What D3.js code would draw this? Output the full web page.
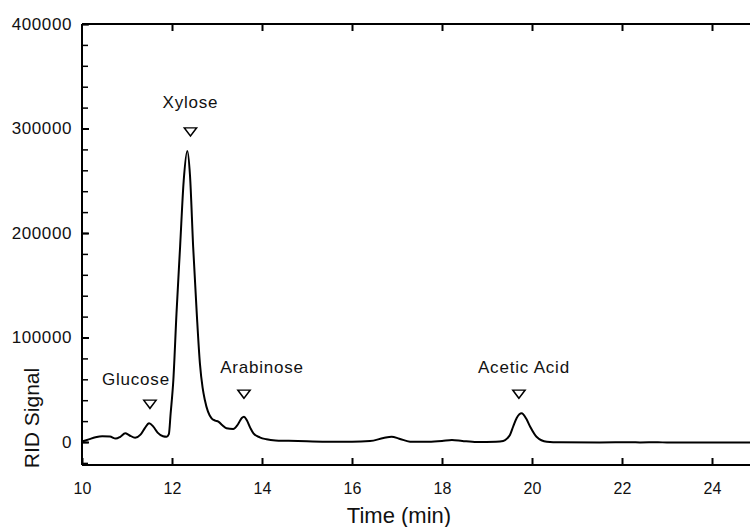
<!DOCTYPE html>
<html>
<head>
<meta charset="utf-8">
<script src="https://cdn.jsdelivr.net/npm/d3@7"></script>
<style>
  body { margin: 0; background: #fff; }
  text { font-family: "Liberation Sans", Arial, sans-serif; fill: #111; }
</style>
</head>
<body>
<div id="chart"></div>
<script>

// chromatogram trace: time (min) and RID signal
var times = [10.00, 10.15, 10.30, 10.45, 10.62, 10.75, 10.85, 10.96, 11.05, 11.18,
             11.30, 11.40, 11.49, 11.58, 11.68, 11.80, 11.88, 11.93, 11.97, 12.03,
             12.10, 12.18, 12.26, 12.34, 12.40, 12.47, 12.55, 12.62, 12.68, 12.73,
             12.80, 12.88, 12.96, 13.03, 13.12, 13.21, 13.36, 13.46, 13.55, 13.60,
             13.66, 13.74, 13.81, 13.95, 14.10, 14.30, 14.55, 15.00, 15.50, 16.00,
             16.40, 16.70, 16.88, 17.05, 17.29, 17.70, 18.00, 18.22, 18.45, 18.77,
             19.20, 19.36, 19.45, 19.51, 19.58, 19.66, 19.77, 19.87, 19.96, 20.10,
             20.33, 20.62, 21.50, 22.20, 22.40, 22.80, 23.00, 24.00, 25.00];
var signal = [500, 2500, 4500, 5500, 5200, 3300, 5000, 8300, 6500, 4000,
              7000, 13500, 17900, 15000, 9000, 5500, 5000, 7500, 27500, 59300,
              123100, 186900, 250000, 278500, 255000, 186900, 123100, 75300, 52000, 40200,
              29000, 22700, 20500, 19500, 16000, 13100, 12400, 16500, 23000, 24200,
              21000, 13500, 8300, 4500, 2600, 1500, 1200, 700, 300, 300,
              900, 3800, 5100, 3200, 300, 200, 900, 1900, 1000, 0,
              300, 1000, 3500, 6700, 14600, 23000, 27500, 22500, 14600, 5100,
              300, -300, -400, -200, -400, -200, -500, -500, -500];

// peak markers
var peakNames = ["Glucose", "Xylose", "Arabinose", "Acetic Acid"];
var peakTimes = [11.51, 12.41, 13.60, 19.71];
var peakMarks = [37400, 298000, 47000, 47000];
var labelShift = [-14, 0, 18, 5];
var labelLift = [18, 22.5, 20, 20];

var xTicks = [10, 12, 14, 16, 18, 20, 22, 24];
var yTicks = [0, 100000, 200000, 300000, 400000];

var outerWidth = 750,
    outerHeight = 527;

var x = d3.scaleLinear()
    .domain([10, 25])
    .range([82, 757]);

var y = d3.scaleLinear()
    .domain([-22000, 400000])
    .range([465, 24]);

var svg = d3.select("#chart")
    .append("svg")
        .attr("width", outerWidth)
        .attr("height", outerHeight);

var data = times.map(function(t, i) { return {t: t, s: signal[i]}; });

// frame lines
svg.append("line")
    .attr("x1", x(10)).attr("x2", x(25))
    .attr("y1", y.range()[1]).attr("y2", y.range()[1])
    .attr("stroke", "#000").attr("stroke-width", 2);
svg.append("line")
    .attr("x1", x(10)).attr("x2", x(25))
    .attr("y1", y.range()[0]).attr("y2", y.range()[0])
    .attr("stroke", "#000").attr("stroke-width", 2);
svg.append("line")
    .attr("x1", x(10)).attr("x2", x(10))
    .attr("y1", y.range()[0]).attr("y2", y.range()[1])
    .attr("stroke", "#000").attr("stroke-width", 2);

// bottom axis, ticks pointing in
var xAxis = svg.append("g")
    .attr("transform", "translate(0," + y.range()[0] + ")")
    .call(d3.axisBottom(x).tickValues(xTicks).tickSizeInner(-7).tickSizeOuter(0).tickPadding(18));
xAxis.select(".domain").remove();
xAxis.selectAll("line").attr("stroke-width", 2);
xAxis.selectAll("text").style("font-size", "16px").attr("fill", "#111")
    .attr("font-family", "Liberation Sans, Arial, sans-serif");

// top ticks
var xTop = svg.append("g")
    .attr("transform", "translate(0," + y.range()[1] + ")")
    .call(d3.axisTop(x).tickValues(xTicks.slice(1)).tickSizeInner(-7).tickSizeOuter(0).tickFormat(""));
xTop.select(".domain").remove();
xTop.selectAll("line").attr("stroke-width", 2);

// left axis with minor ticks every 20000
var yMinor = svg.append("g")
    .attr("transform", "translate(" + x(10) + ",0)")
    .call(d3.axisLeft(y).tickValues(d3.range(-20000, 400001, 20000)).tickSizeInner(-6).tickSizeOuter(0).tickFormat(""));
yMinor.select(".domain").remove();
yMinor.selectAll("line").attr("stroke-width", 1.5);

var yAxis = svg.append("g")
    .attr("transform", "translate(" + x(10) + ",0)")
    .call(d3.axisLeft(y).tickValues(yTicks).tickSizeInner(-7).tickSizeOuter(0).tickPadding(10).tickFormat(d3.format("d")));
yAxis.select(".domain").remove();
yAxis.selectAll("line").attr("stroke-width", 2);
yAxis.selectAll("text").style("font-size", "17px").attr("fill", "#111")
    .attr("font-family", "Liberation Sans, Arial, sans-serif")
    .attr("letter-spacing", "0.6px");

// the trace
var line = d3.line()
    .x(function(d) { return x(d.t); })
    .y(function(d) { return y(d.s); })
    .curve(d3.curveMonotoneX);

svg.append("path")
    .datum(data)
    .attr("d", line)
    .attr("fill", "none")
    .attr("stroke", "#000")
    .attr("stroke-width", 2)
    .attr("stroke-linejoin", "round");

// peak markers and names
var tri = d3.symbol().type(d3.symbolTriangle).size(60);
peakNames.forEach(function(name, i) {
    var px = x(peakTimes[i]), py = y(peakMarks[i]);
    svg.append("path")
        .attr("d", tri())
        .attr("transform", "translate(" + px + "," + py + ") rotate(180) scale(1.05,0.8)")
        .attr("fill", "#fff")
        .attr("stroke", "#000")
        .attr("stroke-width", 1.6);
    svg.append("text")
        .attr("x", px + labelShift[i])
        .attr("y", py - labelLift[i])
        .attr("text-anchor", "middle")
        .attr("letter-spacing", "0.8px")
        .style("font-size", "17px")
        .text(name);
});

// axis titles
svg.append("text")
    .attr("x", 399)
    .attr("y", 523)
    .attr("text-anchor", "middle")
    .style("font-size", "22px")
    .text("Time (min)");

svg.append("text")
    .attr("transform", "translate(39,418) rotate(-90)")
    .attr("text-anchor", "middle")
    .style("font-size", "21px")
    .text("RID Signal");

</script>
</body>
</html>
